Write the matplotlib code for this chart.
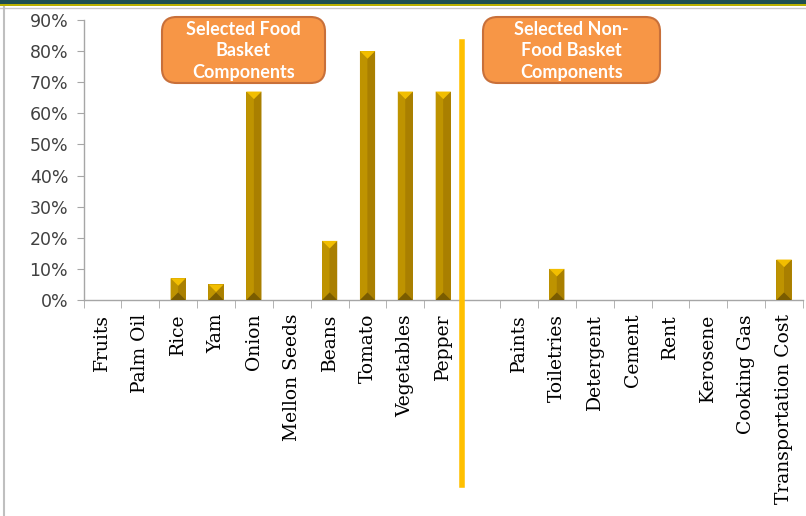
import matplotlib
matplotlib.use("Agg")
import matplotlib.pyplot as plt
from matplotlib.patches import FancyBboxPatch, Polygon, Rectangle
from matplotlib.lines import Line2D
import matplotlib.transforms as mtransforms
import numpy as np

categories = ["Fruits", "Palm Oil", "Rice", "Yam", "Onion", "Mellon Seeds", "Beans",
              "Tomato", "Vegetables", "Pepper", "",
              "Paints", "Toiletries", "Detergent", "Cement", "Rent", "Kerosene",
              "Cooking Gas", "Transportation Cost"]
values = [0, 0, 7, 5, 67, 0, 19, 80, 67, 67, 0,
          0, 10, 0, 0, 0, 0, 0, 13]
y_ticks = [0, 10, 20, 30, 40, 50, 60, 70, 80, 90]
y_tick_labels = [f"{v}%" for v in y_ticks]
box_food = "Selected Food\nBasket\nComponents"
box_nonfood = "Selected Non-\nFood Basket\nComponents"

W, H = 806, 516
fig = plt.figure(figsize=(W / 100, H / 100), dpi=100)
fig.patch.set_facecolor("white")

def fx(px):
    return px / W

def fy(py):
    return 1 - py / H

ax_left, ax_right, ax_top, ax_bot = 83.5, 803, 20, 300
ax = fig.add_axes([fx(ax_left), fy(ax_bot), fx(ax_right - ax_left), (ax_bot - ax_top) / H])
ax.set_xlim(-0.5, len(categories) - 0.5)
ax.set_ylim(0, 90)

x = np.arange(len(categories))
bar_w = 0.4
base_col = "#B58A00"
bars = ax.bar(x, values, width=bar_w, color=base_col, edgecolor="none", zorder=2)

# bevel shading
fig.canvas.draw()
p0 = ax.transData.transform((0, 0))
p1 = ax.transData.transform((bar_w / 2, 1))
half_px = p1[0] - p0[0]
unit_px = p1[1] - p0[1]
tri_h = half_px / unit_px
for xi, v in zip(x, values):
    if v <= 0:
        continue
    l, r, c = xi - bar_w / 2, xi + bar_w / 2, xi
    th = min(tri_h, v / 2)
    ax.add_patch(Polygon([(l, 0), (c, th), (c, v - th), (l, v)], closed=True,
                         facecolor="#BE9300", edgecolor="none", zorder=3))
    ax.add_patch(Polygon([(r, 0), (c, th), (c, v - th), (r, v)], closed=True,
                         facecolor="#A97F00", edgecolor="none", zorder=3))
    ax.add_patch(Polygon([(l, v), (r, v), (c, v - th)], closed=True,
                         facecolor="#F2BE00", edgecolor="none", zorder=3))
    ax.add_patch(Polygon([(l, 0), (r, 0), (c, th)], closed=True,
                         facecolor="#7A5C00", edgecolor="none", zorder=3))

for s in ["top", "right"]:
    ax.spines[s].set_visible(False)
for s in ["left", "bottom"]:
    ax.spines[s].set_color("#A6A6A6")
    ax.spines[s].set_linewidth(1.0)

ax.set_yticks(y_ticks)
ax.set_yticklabels(y_tick_labels, fontsize=12.5, color="#404040", family="DejaVu Sans")
ax.tick_params(axis="y", length=5, color="#A6A6A6", pad=6)

ax.set_xticks(x)
ax.set_xticklabels(categories, rotation=90, fontsize=13.5, family="DejaVu Serif",
                   color="black", va="top", ha="center")
ax.tick_params(axis="x", which="major", length=0, pad=10)
ax.set_xticks(np.arange(-0.5, len(categories)), minor=True)
ax.tick_params(axis="x", which="minor", length=6, color="#A6A6A6", direction="out")

trans = mtransforms.blended_transform_factory(ax.transData, ax.transAxes)
ax.add_line(Line2D([9.5, 9.5], [(ax_bot - 42) / (ax_bot - ax_top), (ax_bot - 485) / (ax_bot - ax_top)],
                   transform=trans, color="#FFC000", linewidth=4, clip_on=False, zorder=5))

def add_box(x0, y0, x1, y1, text):
    box = FancyBboxPatch((fx(x0), fy(y1)), fx(x1 - x0), (y1 - y0) / H,
                         boxstyle="round,pad=0,rounding_size=0.018",
                         transform=fig.transFigure, facecolor="#F79646",
                         edgecolor="#C8703A", linewidth=1.5, zorder=10, mutation_aspect=W / H)
    fig.add_artist(box)
    fig.text(fx((x0 + x1) / 2), fy((y0 + y1) / 2 + 1), text, ha="center", va="center",
             color="white", fontsize=13, fontweight="bold", family="Lato",
             linespacing=1.3, zorder=11)

add_box(162, 17, 325, 83, box_food)
add_box(483, 17, 660, 83, box_nonfood)

fig.add_artist(Rectangle((0, fy(4)), 1, 4 / H, transform=fig.transFigure,
                         facecolor="#1D4F52", edgecolor="none"))
fig.add_artist(Rectangle((0, fy(6)), 1, 2 / H, transform=fig.transFigure,
                         facecolor="#B8B000", edgecolor="none"))
fig.add_artist(Line2D([0, 1], [fy(7.5), fy(7.5)], transform=fig.transFigure,
                      color="#C8C8C8", linewidth=1))
fig.add_artist(Line2D([fx(3.5), fx(3.5)], [fy(7), fy(516)], transform=fig.transFigure,
                      color="#BFBFBF", linewidth=1.5))

fig.savefig("out.png", dpi=100)
